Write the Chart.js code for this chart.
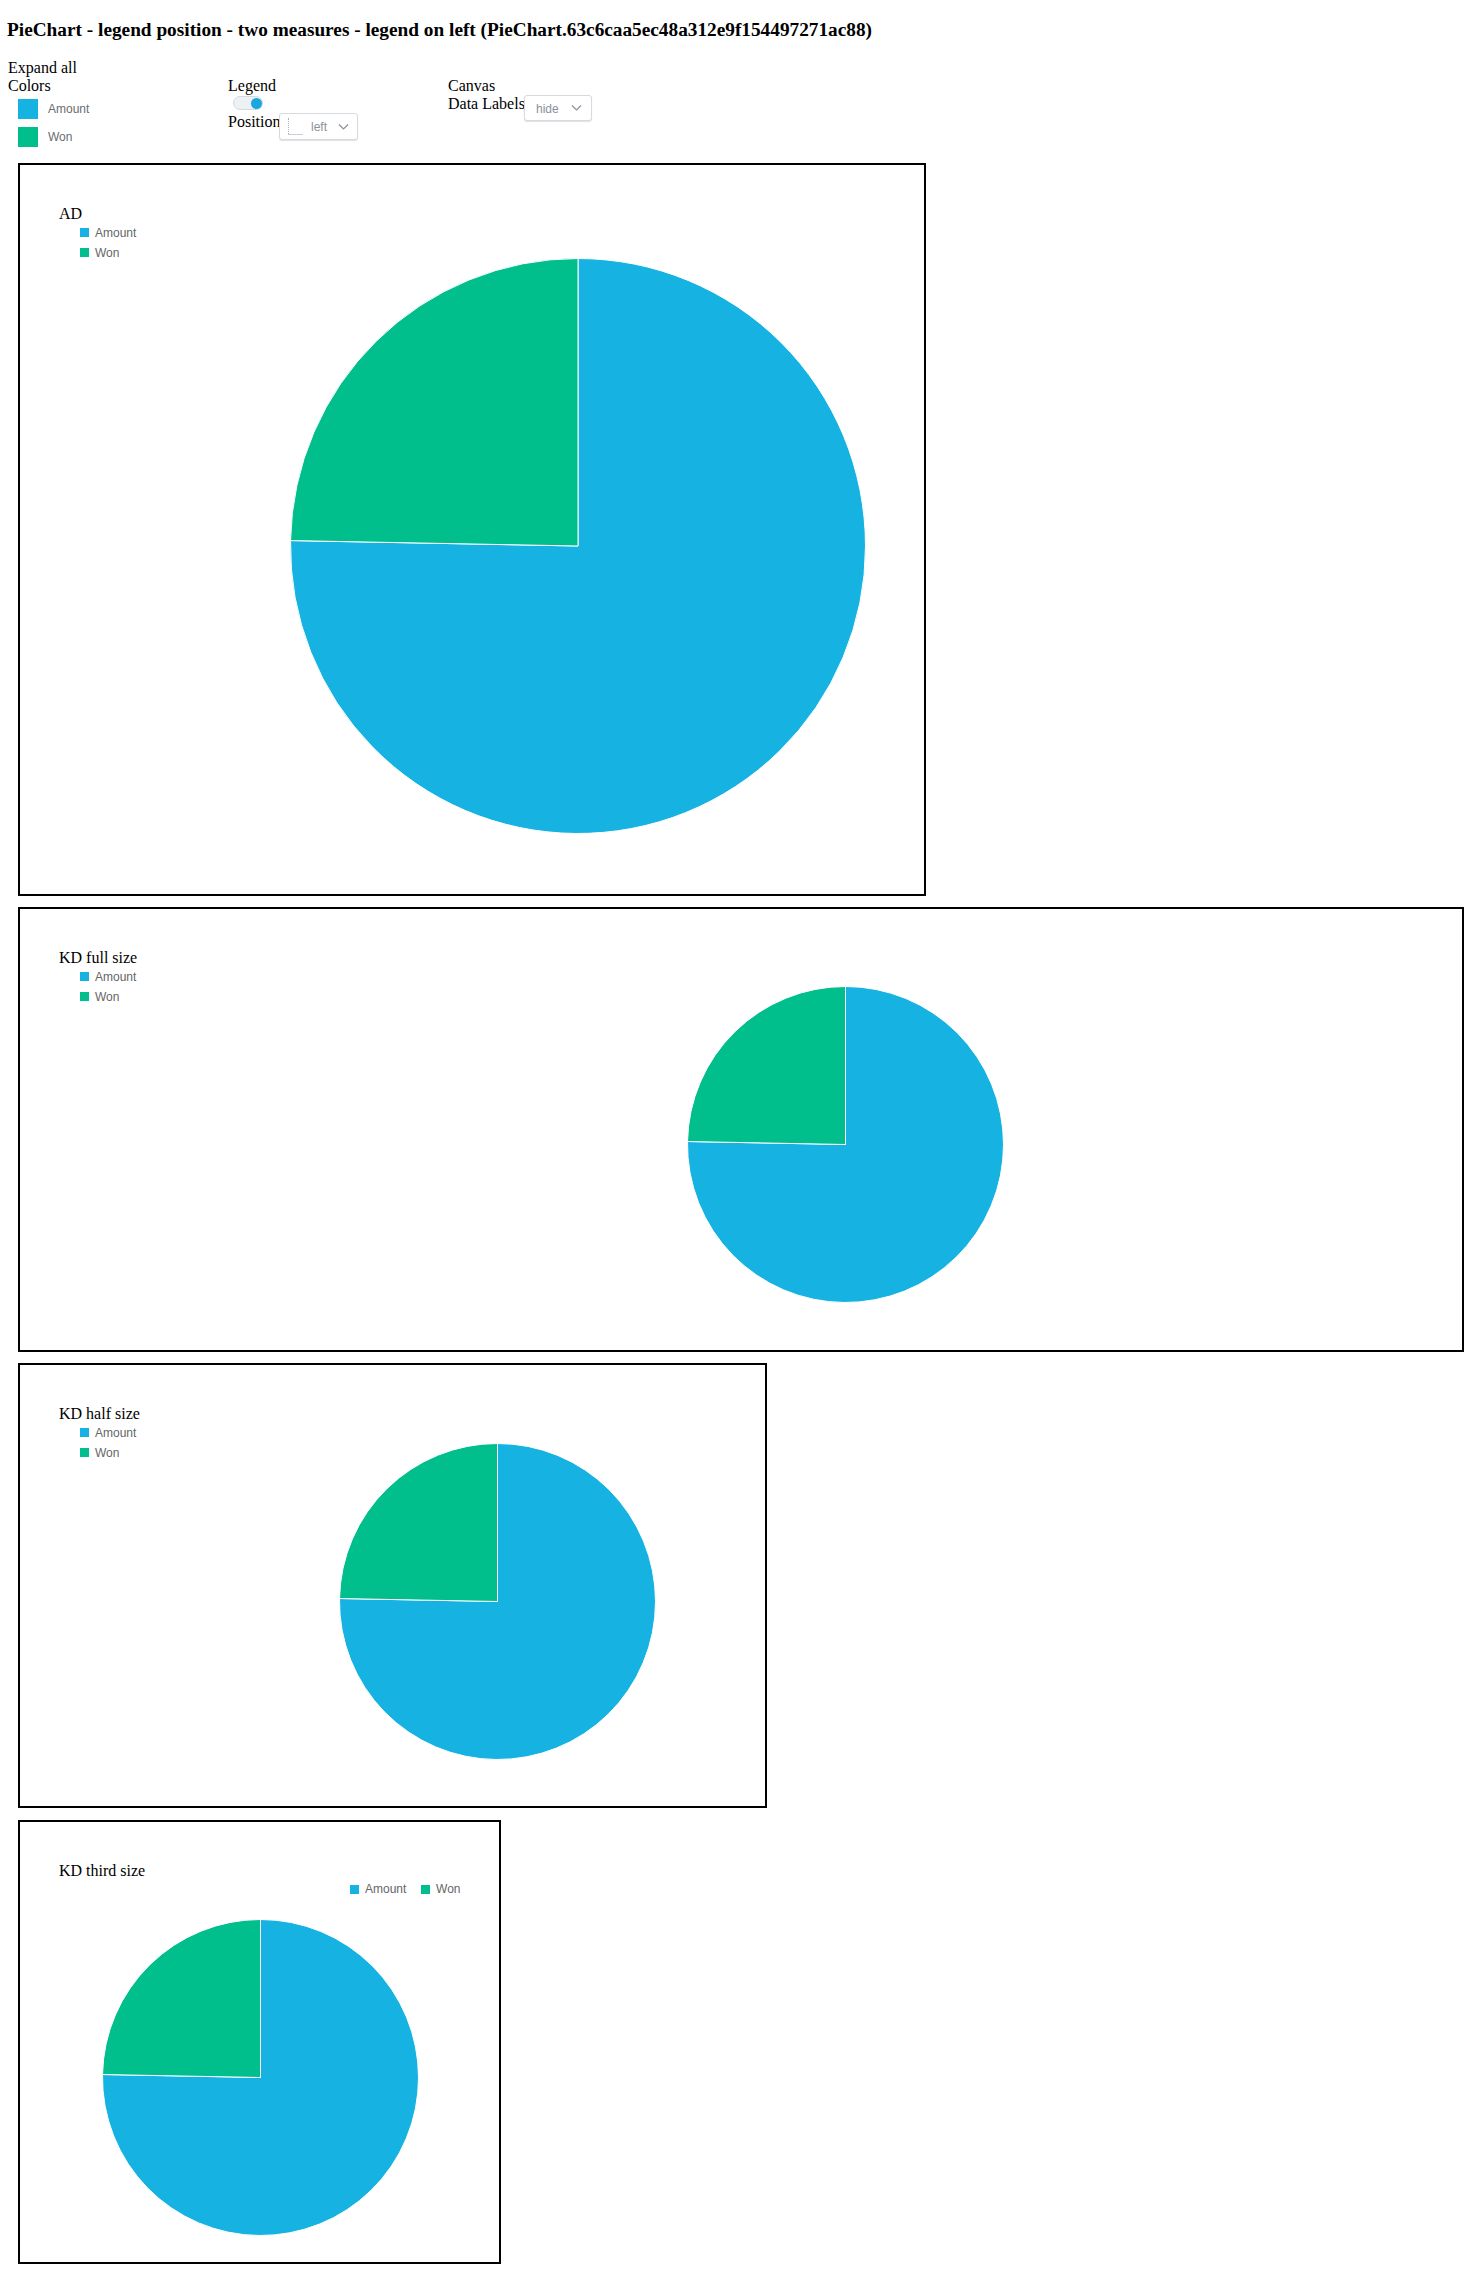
<!DOCTYPE html>
<html><head><meta charset="utf-8">
<script src="https://cdn.jsdelivr.net/npm/chart.js@4.4.1/dist/chart.umd.min.js"></script>
<style>
html,body{margin:0;padding:0;background:#fff;}
body{position:relative;width:1464px;height:2275px;font-family:"Liberation Serif","Times New Roman",serif;color:#000;overflow:hidden;}
.abs{position:absolute;white-space:nowrap;}
.t16{font-size:16px;line-height:16px;}
.title{font-size:19.3px;font-weight:bold;line-height:19.3px;}
.sans{font-family:"Liberation Sans",Arial,Helvetica,sans-serif;}
.box{position:absolute;border:2px solid #000;box-sizing:border-box;}
.row{position:absolute;display:flex;align-items:center;height:12px;font-family:"Liberation Sans",Arial,Helvetica,sans-serif;font-size:12px;line-height:12px;color:#666;white-space:nowrap;}
.row i{display:inline-block;width:9px;height:9px;margin-right:6px;}
.hrow .it{display:flex;align-items:center;margin-right:14.7px;}
canvas{position:absolute;}
.dd{position:absolute;box-sizing:border-box;border:1px solid #d5dadf;border-radius:3px;background:#fff;box-shadow:0 1px 1px rgba(0,0,0,0.12);}
.ddt{position:absolute;font-family:"Liberation Sans",Arial,sans-serif;font-size:12px;line-height:12px;color:#89919a;}
</style>
</head>
<body>
<script>
// ---- data ----
const categories = ["Amount", "Won"];
const colors = ["#16b2e2", "#00bf8c"];
const amountValues = [753, 753, 753, 753];
const wonValues = [247, 247, 247, 247];
const chartTitles = ["AD", "KD full size", "KD half size", "KD third size"];
const pageTitle = "PieChart - legend position - two measures - legend on left (PieChart.63c6caa5ec48a312e9f154497271ac88)";
</script>

<div class="abs title" style="left:7px;top:19.6px;" id="pt"></div>
<div class="abs t16" style="left:8px;top:59.6px;">Expand all</div>
<div class="abs t16" style="left:8px;top:77.6px;">Colors</div>
<div class="abs" id="sw0" style="left:18px;top:99px;width:20px;height:20px;"></div>
<div class="abs" id="sw1" style="left:18px;top:127px;width:20px;height:20px;"></div>
<div class="abs sans" id="cl0" style="left:48px;top:103px;font-size:12px;line-height:12px;color:#6a6d70;"></div>
<div class="abs sans" id="cl1" style="left:48px;top:131px;font-size:12px;line-height:12px;color:#6a6d70;"></div>

<div class="abs t16" style="left:228px;top:77.6px;">Legend</div>
<div class="abs" style="left:233px;top:96px;width:30px;height:14px;box-sizing:border-box;border:1px solid #d5dadf;border-radius:7px;background:#eef1f3;"></div>
<div class="abs" style="left:251px;top:97.5px;width:11px;height:11px;border-radius:50%;background:#1aa7df;"></div>
<div class="abs t16" style="left:228px;top:113.6px;">Position</div>
<div class="dd" style="left:279px;top:113px;width:79px;height:27px;"></div>
<div class="abs" style="left:288px;top:118px;width:0;height:16px;border-left:1px dotted #aab2b9;"></div>
<div class="abs" style="left:288px;top:134px;width:15px;height:0;border-top:1px solid #c8ced3;"></div>
<div class="ddt" style="left:311px;top:121px;">left</div>
<svg class="abs" style="left:338px;top:123px;" width="11" height="8"><polyline points="1,1.5 5.5,6 10,1.5" fill="none" stroke="#89919a" stroke-width="1.2"/></svg>

<div class="abs t16" style="left:448px;top:77.6px;">Canvas</div>
<div class="abs t16" style="left:448px;top:95.6px;">Data Labels</div>
<div class="dd" style="left:524px;top:95px;width:68px;height:26px;"></div>
<div class="ddt" style="left:536px;top:103px;">hide</div>
<svg class="abs" style="left:571px;top:104px;" width="11" height="8"><polyline points="1,1.5 5.5,6 10,1.5" fill="none" stroke="#89919a" stroke-width="1.2"/></svg>

<div class="box" style="left:18px;top:163px;width:908px;height:733px;"></div>
<div class="box" style="left:18px;top:907px;width:1446px;height:445px;"></div>
<div class="box" style="left:18px;top:1363px;width:749px;height:445px;"></div>
<div class="box" style="left:18px;top:1820px;width:483px;height:444px;"></div>

<div id="charts"></div>

<script>
document.getElementById('pt').textContent = pageTitle;
categories.forEach((c, i) => {
  document.getElementById('sw' + i).style.background = colors[i];
  document.getElementById('cl' + i).textContent = c;
});

// layout of each chart (box top, canvas placement, legend style)
const layouts = [
  {boxTop:163, cx:290, cy:258, size:576, legend:'left'},
  {boxTop:907, cx:687, cy:986, size:317, legend:'left'},
  {boxTop:1363, cx:339, cy:1443, size:317, legend:'left'},
  {boxTop:1820, cx:102, cy:1919, size:317, legend:'top', legendX:350}
];

const host = document.getElementById('charts');
layouts.forEach((L, k) => {
  const t = document.createElement('div');
  t.className = 'abs t16';
  t.style.left = '59px';
  t.style.top = (L.boxTop + 55 - 12.2) + 'px';
  t.textContent = chartTitles[k];
  host.appendChild(t);

  const cv = document.createElement('canvas');
  cv.width = L.size; cv.height = L.size;
  cv.style.left = L.cx + 'px'; cv.style.top = L.cy + 'px';
  cv.style.width = L.size + 'px'; cv.style.height = L.size + 'px';
  host.appendChild(cv);

  const chart = new Chart(cv, {
    type: 'pie',
    data: {
      labels: categories,
      datasets: [{
        data: [amountValues[k], wonValues[k]],
        backgroundColor: colors,
        borderColor: '#ffffff',
        borderWidth: 1,
        hoverOffset: 0
      }]
    },
    options: {
      responsive: false,
      animation: false,
      devicePixelRatio: 1,
      layout: {padding: 0},
      plugins: {legend: {display: false}, tooltip: {enabled: false}}
    }
  });

  // HTML legend built from Chart.js legend labels
  const items = Chart.overrides.pie.plugins.legend.labels.generateLabels(chart);
  if (L.legend === 'left') {
    items.forEach((it, i) => {
      const r = document.createElement('div');
      r.className = 'row';
      r.style.left = '80px';
      r.style.top = (L.boxTop + 66 - 2.5 + i * 20) + 'px';
      r.innerHTML = '<i style="background:' + it.fillStyle + '"></i><span></span>';
      r.querySelector('span').textContent = it.text;
      host.appendChild(r);
    });
  } else {
    const r = document.createElement('div');
    r.className = 'row hrow';
    r.style.left = L.legendX + 'px';
    r.style.top = (L.boxTop + 65 - 2) + 'px';
    items.forEach((it) => {
      const d = document.createElement('div');
      d.className = 'it';
      d.innerHTML = '<i style="background:' + it.fillStyle + '"></i><span></span>';
      d.querySelector('span').textContent = it.text;
      r.appendChild(d);
    });
    host.appendChild(r);
  }
});
</script>
</body></html>
